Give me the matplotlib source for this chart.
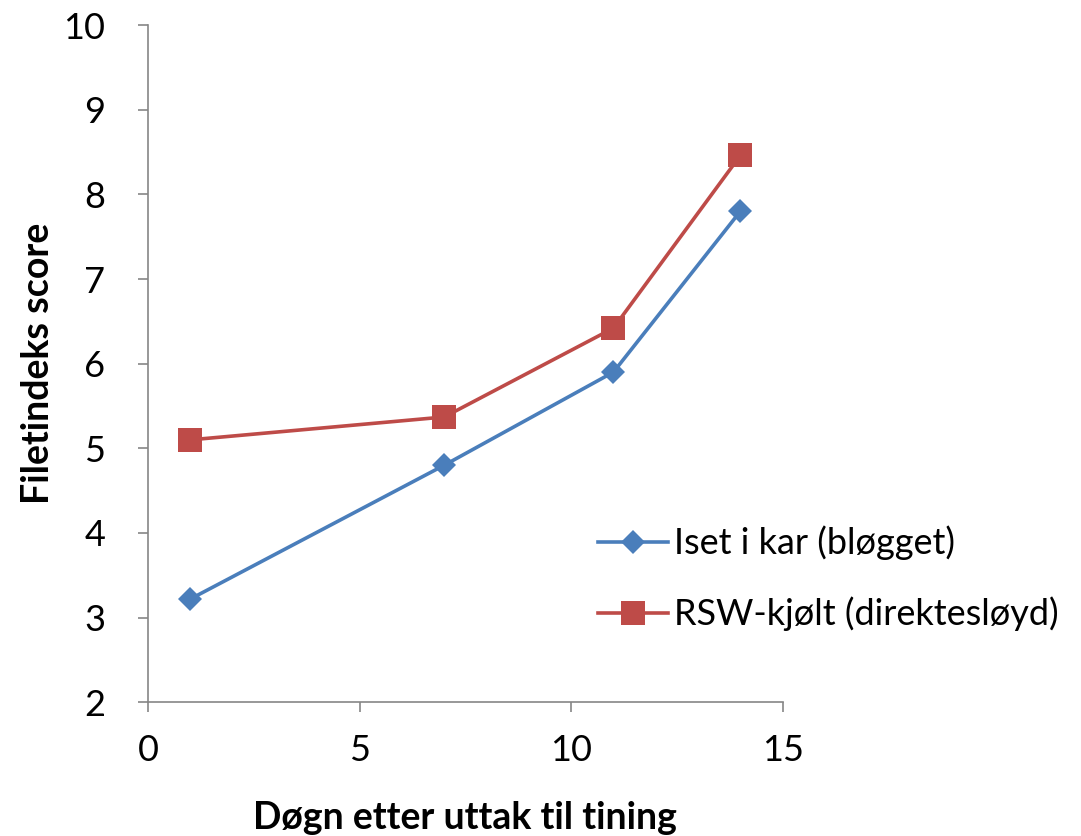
import matplotlib.pyplot as plt

# Data
days = [1, 7, 11, 14]
iset = [3.22, 4.80, 5.90, 7.80]
rsw = [5.10, 5.37, 6.42, 8.46]
labels = ['Iset i kar (bløgget)', 'RSW-kjølt (direktesløyd)']

plt.rcParams['font.family'] = ['Lato', 'DejaVu Sans']

fig = plt.figure(figsize=(10.81, 8.36), dpi=100, facecolor='white')
ax = fig.add_axes([0.137, 0.160, 0.587, 0.810])

ax.plot(days, iset, color='#4A7EBB', lw=2.6, marker='D', markersize=12.5,
        markeredgewidth=0, label=labels[0])
ax.plot(days, rsw, color='#BE4B48', lw=2.6, marker='s', markersize=17.5,
        markeredgewidth=0, label=labels[1])

ax.set_xlim(0, 15)
ax.set_ylim(2, 10)
ax.set_xticks([0, 5, 10, 15])
ax.set_yticks(range(2, 11))

for s in ['top', 'right']:
    ax.spines[s].set_visible(False)
for s in ['left', 'bottom']:
    ax.spines[s].set_color('#868686')
    ax.spines[s].set_linewidth(1.2)

ax.tick_params(axis='both', direction='out', length=7, width=1.2,
               color='#868686', labelsize=26)
ax.tick_params(axis='x', pad=16)
ax.tick_params(axis='y', pad=24)

ax.set_xlabel('Døgn etter uttak til tining', fontsize=27, fontweight='bold', labelpad=24)
ax.set_ylabel('Filetindeks score', fontsize=27, fontweight='bold', labelpad=6)

fig.legend(loc='center left', bbox_to_anchor=(0.553, 0.308), frameon=False,
           fontsize=26, handlelength=1.95, handletextpad=0.17, labelspacing=1.0,
           borderpad=0, borderaxespad=0)

fig.savefig('out.png', dpi=100, facecolor='white')
